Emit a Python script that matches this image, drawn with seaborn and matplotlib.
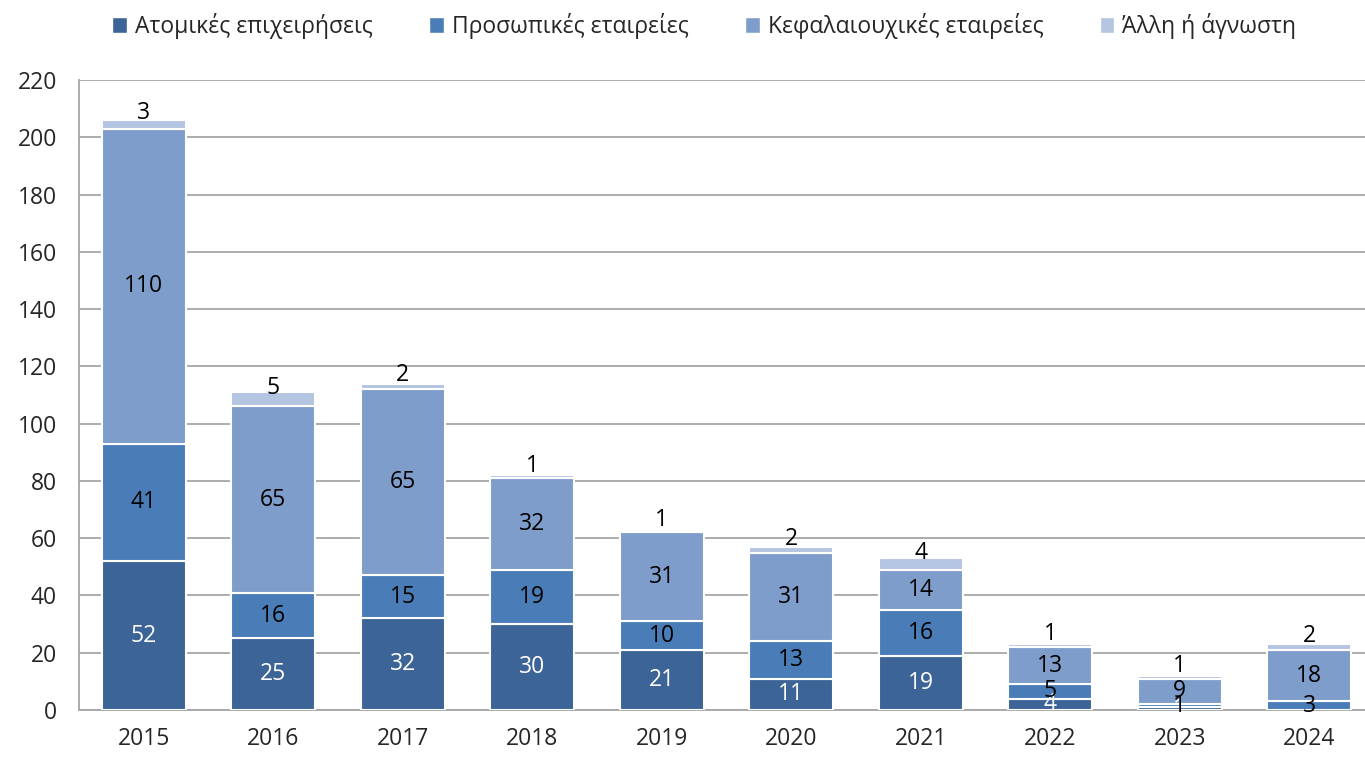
import matplotlib
matplotlib.use("Agg")
import matplotlib.pyplot as plt
import seaborn as sns
import pandas as pd
import numpy as np
from matplotlib.patches import Patch

years = ["2015", "2016", "2017", "2018", "2019", "2020", "2021", "2022", "2023", "2024"]
series_names = ["Ατομικές επιχειρήσεις", "Προσωπικές εταιρείες",
                "Κεφαλαιουχικές εταιρείες", "Άλλη ή άγνωστη"]
atomikes = [52, 25, 32, 30, 21, 11, 19, 4, 1, 0]
prosopikes = [41, 16, 15, 19, 10, 13, 16, 5, 1, 3]
kefalaiouxikes = [110, 65, 65, 32, 31, 31, 14, 13, 9, 18]
alli = [3, 5, 2, 1, 1, 2, 4, 1, 1, 2]
yticks = [0, 20, 40, 60, 80, 100, 120, 140, 160, 180, 200, 220]

colors = ["#3D6496", "#4A7DB8", "#7F9DCA", "#B4C5E1"]
label_colors = ["white", "black", "black", "black"]

sns.set_theme(style="white")
plt.rcParams["font.family"] = ["Open Sans", "DejaVu Sans"]

FS = 16.5

fig = plt.figure(figsize=(13.65, 7.58), dpi=100)
ax = fig.add_axes([79 / 1365, 1 - 710 / 758, 1 - 79 / 1365, (710 - 80) / 758])

layers = [atomikes, prosopikes, kefalaiouxikes, alli]
bottom = np.zeros(len(years))
for i, (vals, name) in enumerate(zip(layers, series_names)):
    df = pd.DataFrame({"year": years, "value": vals})
    sns.barplot(data=df, x="year", y="value", order=years, color=colors[i],
                bottom=bottom, width=0.65, edgecolor="white", linewidth=1.5,
                saturation=1, ax=ax, zorder=3)
    for j, v in enumerate(vals):
        if v == 0:
            continue
        yc = bottom[j] + v / 2
        if i == 3:
            ax.annotate(str(v), (j, yc), xytext=(0, 8), textcoords="offset points",
                        ha="center", va="center", fontsize=FS, color=label_colors[i], zorder=5)
        else:
            ax.text(j, yc, str(v), ha="center", va="center", fontsize=FS,
                    color=label_colors[i], zorder=5)
    bottom = bottom + np.array(vals)

ax.set_xlim(-0.5, 9.43)
ax.set_ylim(0, 220)
ax.set_yticks(yticks)
ax.set_yticklabels([str(t) for t in yticks], fontsize=FS)
ax.tick_params(axis="x", labelsize=FS, length=0, pad=12)
ax.tick_params(axis="y", length=0, pad=16)
ax.set_xlabel("")
ax.set_ylabel("")
ax.yaxis.grid(True, color="#A6A6A6", linewidth=1.3, zorder=0)
ax.set_axisbelow(True)
for side in ["top", "right"]:
    ax.spines[side].set_visible(False)
ax.spines["left"].set_color("#A6A6A6")
ax.spines["bottom"].set_color("#A6A6A6")
ax.spines["left"].set_linewidth(1.3)
ax.spines["bottom"].set_linewidth(1.3)

handles = [Patch(facecolor=c, edgecolor="white") for c in colors]
fig.legend(handles, series_names, loc="upper center", bbox_to_anchor=(0.516, 1.01),
           ncol=4, frameon=False, fontsize=FS, handlelength=0.65, handleheight=0.65,
           handletextpad=0.35, columnspacing=2.45)

fig.savefig("out.png", dpi=100)
